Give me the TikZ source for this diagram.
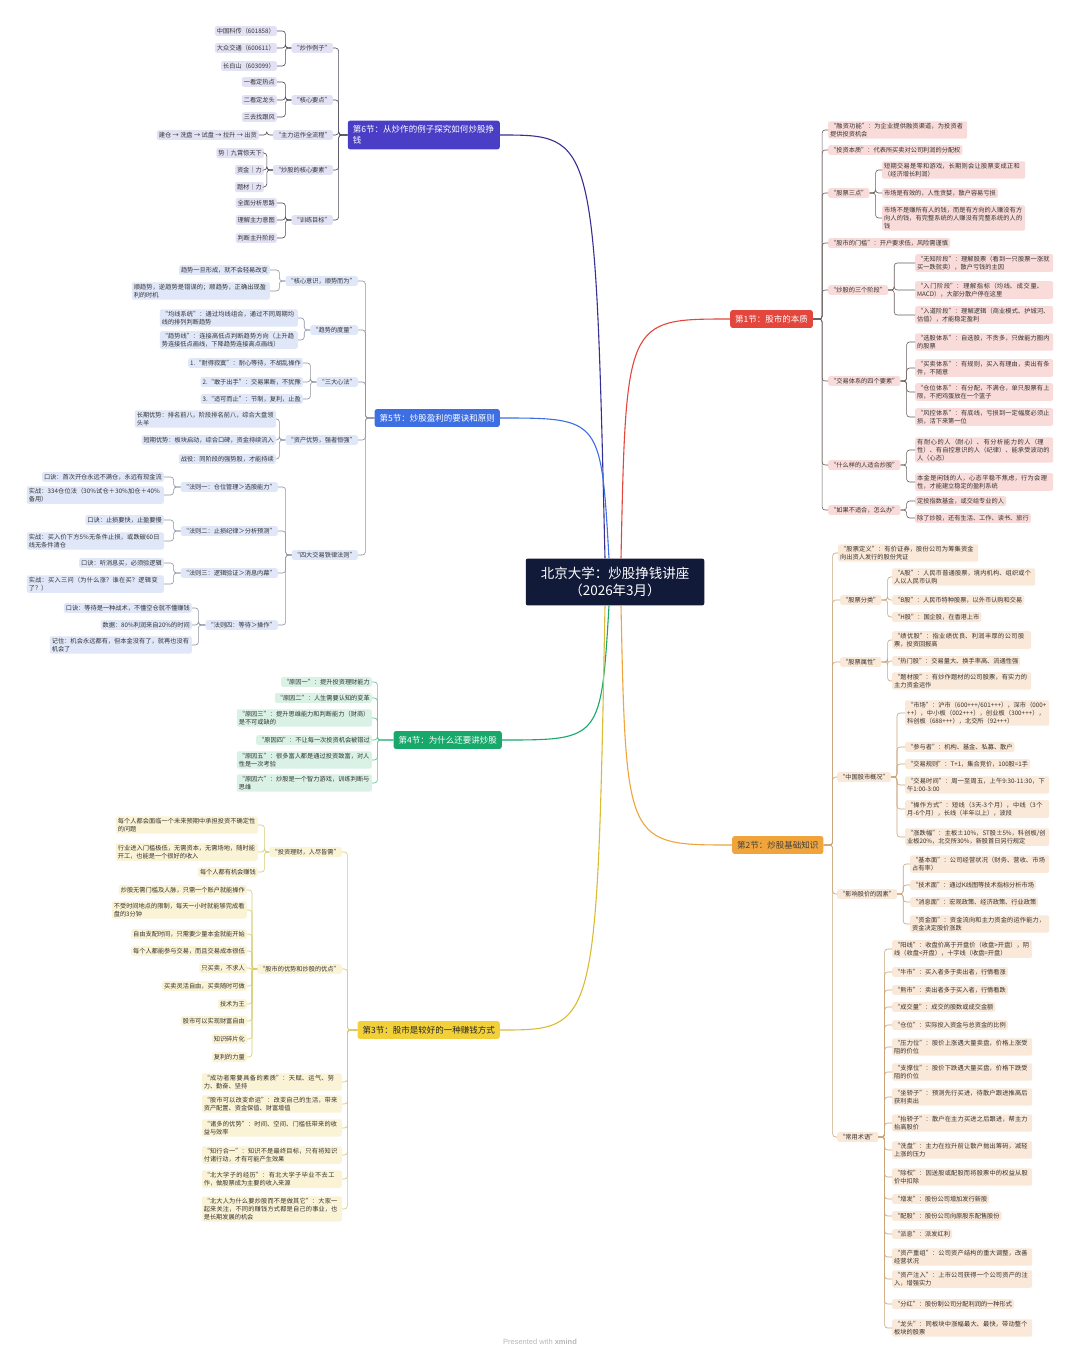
\documentclass[tikz,border=0pt]{standalone}
\usepackage{fontspec}
\setmainfont{Noto Sans CJK SC}
\newfontfamily\footfont{Liberation Sans}
\XeTeXlinebreaklocale "zh"
\XeTeXlinebreakskip = 0pt plus 1pt
\usetikzlibrary{positioning}

\definecolor{rootfill}{HTML}{121A3A}
\definecolor{sixc}{HTML}{4A3EC6}
\definecolor{sixl}{HTML}{E3E2F4}
\definecolor{sixline}{HTML}{4A4A55}
\definecolor{fivec}{HTML}{3D6FE2}
\definecolor{fivel}{HTML}{E0E7F8}
\definecolor{fiveline}{HTML}{8C93A3}
\definecolor{fourc}{HTML}{17A86A}
\definecolor{fourl}{HTML}{DAF1E5}
\definecolor{fourline}{HTML}{5CC497}
\definecolor{threec}{HTML}{F2D03A}
\definecolor{threel}{HTML}{FBF3D5}
\definecolor{threeline}{HTML}{D6CC6A}
\definecolor{onec}{HTML}{E3463C}
\definecolor{onel}{HTML}{F9DCDA}
\definecolor{oneline}{HTML}{6A5F5F}
\definecolor{twoc}{HTML}{F0A43C}
\definecolor{twol}{HTML}{FAE8D8}
\definecolor{twoline}{HTML}{C9A57A}

\newcommand\rootfont{\fontsize{13.5}{17}\selectfont}
\newcommand\secfont{\fontsize{8.5}{11}\selectfont}
\newcommand\leaffont{\fontsize{6.2}{7.8}\selectfont}

\begin{document}
\begin{tikzpicture}[
    x=1pt, y=-1pt,
    root/.style={fill=rootfill, text=white, rounded corners=2pt, align=center, font=\rootfont, inner xsep=15pt, inner ysep=8.5pt},
    sec/.style={rounded corners=2.5pt, font=\secfont, inner xsep=5pt, inner ysep=5pt, text=white},
    leaf/.style={rounded corners=2pt, font=\leaffont, inner xsep=2pt, inner ysep=1.9pt, align=left, text=black!80},
    lsix/.style={leaf, fill=sixl, anchor=east},
    lfive/.style={leaf, fill=fivel, anchor=east},
    lfour/.style={leaf, fill=fourl, anchor=east},
    lthree/.style={leaf, fill=threel, anchor=east},
    lone/.style={leaf, fill=onel, anchor=west},
    ltwo/.style={leaf, fill=twol, anchor=west},
    csix/.style={draw=sixline, line width=0.6pt, rounded corners=3pt},
    cfive/.style={draw=fiveline, line width=0.6pt, rounded corners=3pt},
    cfour/.style={draw=fourline, line width=0.6pt, rounded corners=3pt},
    cthree/.style={draw=threeline, line width=0.6pt, rounded corners=3pt},
    cone/.style={draw=oneline, line width=0.6pt, rounded corners=3pt},
    ctwo/.style={draw=twoline, line width=0.6pt, rounded corners=3pt},
    branch/.style={line width=1.1pt}
]
\fill[white] (0,0) rectangle (1080,1360);
\useasboundingbox (0,0) rectangle (1080,1360);

% centre
\node[root] (root) at (615,582) {北京大学：炒股挣钱讲座\\（2026年3月）};

% ---- section 6
\node[sec, fill=sixc, anchor=east, text width=142pt, align=left] (s6) at (500,135) {第6节：从炒作的例子探究如何炒股挣钱};
\node[lsix] (s6a) at (333,48) {“炒作例子”};
\node[lsix] (s6a1) at (277,31) {中国科传（601858）};
\node[lsix] (s6a2) at (277,48) {大众交通（600611）};
\node[lsix] (s6a3) at (277,66) {长白山（603099）};
\node[lsix] (s6b) at (333,100) {“核心要点”};
\node[lsix] (s6b1) at (277,82) {一看定热点};
\node[lsix] (s6b2) at (277,100) {二看定龙头};
\node[lsix] (s6b3) at (277,117) {三去找跟风};
\node[lsix] (s6c) at (333,135) {“主力运作全流程”};
\node[lsix] (s6c1) at (259,135) {建仓 → 洗盘 → 试盘 → 拉升 → 出货};
\node[lsix] (s6d) at (333,170) {“炒股的核心要素”};
\node[lsix] (s6d1) at (264,153) {势｜九霄惊天下};
\node[lsix] (s6d2) at (264,170) {资金｜力};
\node[lsix] (s6d3) at (264,187) {题材｜力};
\node[lsix] (s6e) at (333,220) {“训练目标”};
\node[lsix] (s6e1) at (277,203) {全面分析思路};
\node[lsix] (s6e2) at (277,220) {理解主力意图};
\node[lsix] (s6e3) at (277,238) {判断主升阶段};

\foreach \c in {s6a,s6b,s6c,s6d,s6e}
  \draw[csix] (s6.west) -- ++(-9,0) |- (\c.east);
\foreach \p/\c in {s6a/s6a1,s6a/s6a2,s6a/s6a3,s6b/s6b1,s6b/s6b2,s6b/s6b3,s6c/s6c1,s6d/s6d1,s6d/s6d2,s6d/s6d3,s6e/s6e1,s6e/s6e2,s6e/s6e3}
  \draw[csix] (\p.west) -- ++(-6,0) |- (\c.east);

% ---- section 5
\node[sec, fill=fivec, anchor=east] (s5) at (500,418) {第5节：炒股盈利的要诀和原则};
\node[lfive] (s5a) at (358,281) {“核心意识，顺势而为”};
\node[lfive] (s5a1) at (270,270) {趋势一旦形成，就不会轻易改变};
\node[lfive, text width=134pt] (s5a2) at (270,291) {顺趋势，逆趋势是错误的；顺趋势，正确出现盈利的时机};
\node[lfive] (s5b) at (358,330) {“趋势的度量”};
\node[lfive, text width=134pt] (s5b1) at (298,318) {“均线系统”：通过均线组合，通过不同周期均线的排列判断趋势};
\node[lfive, text width=134pt] (s5b2) at (298,340) {“趋势线”：连接高低点判断趋势方向（上升趋势连接低点画线，下降趋势连接高点画线）};
\node[lfive] (s5c) at (358,382) {“三大心法”};
\node[lfive] (s5c1) at (303,363) {1.“耐得寂寞”：耐心等待，不胡乱操作};
\node[lfive] (s5c2) at (303,382) {2.“敢于出手”：交易果断，不犹豫};
\node[lfive] (s5c3) at (303,399) {3.“适可而止”：节制，复利，止盈};
\node[lfive] (s5d) at (358,440) {“资产优势，强者恒强”};
\node[lfive, text width=137pt] (s5d1) at (276,419) {长期优势：排名前八，阶段排名前八，综合大盘领头羊};
\node[lfive] (s5d2) at (276,440) {短期优势：板块启动，综合口碑，资金持续流入};
\node[lfive] (s5d3) at (276,459) {战役：同阶段的强势股，才能持续};
\node[lfive] (s5e) at (358,555) {“四大交易铁律法则”};
\node[lfive] (s5e1) at (278,487) {“法则一：仓位管理＞选股能力”};
\node[lfive] (s5e1a) at (164,477) {口诀：首次开仓永远不满仓，永远有现金流};
\node[lfive, text width=133pt] (s5e1b) at (164,495) {实战：334仓位法（30\%试仓＋30\%加仓＋40\%备用）};
\node[lfive] (s5e2) at (278,531) {“法则二：止损纪律＞分析预测”};
\node[lfive] (s5e2a) at (164,520) {口诀：止损要快，止盈要慢};
\node[lfive, text width=133pt] (s5e2b) at (164,541) {实战：买入价下方5\%无条件止损，或跌破60日线无条件清仓};
\node[lfive] (s5e3) at (278,573) {“法则三：逻辑验证＞消息内幕”};
\node[lfive] (s5e3a) at (164,563) {口诀：听消息买，必须验逻辑};
\node[lfive, text width=133pt] (s5e3b) at (164,584) {实战：买入三问（为什么涨？谁在买？逻辑变了？）};
\node[lfive] (s5e4) at (278,625) {“法则四：等待＞操作”};
\node[lfive] (s5e4a) at (192,608) {口诀：等待是一种战术，不懂空仓就不懂赚钱};
\node[lfive] (s5e4b) at (192,625) {数据：80\%利润来自20\%的时间};
\node[lfive, text width=138pt] (s5e4c) at (192,645) {记住：机会永远都有，但本金没有了，就再也没有机会了};

\foreach \c in {s5a,s5b,s5c,s5d,s5e}
  \draw[cfive] (s5.west) -- ++(-9,0) |- (\c.east);
\foreach \p/\c in {s5a/s5a1,s5a/s5a2,s5b/s5b1,s5b/s5b2,s5c/s5c1,s5c/s5c2,s5c/s5c3,s5d/s5d1,s5d/s5d2,s5d/s5d3,s5e/s5e1,s5e/s5e2,s5e/s5e3,s5e/s5e4}
  \draw[cfive] (\p.west) -- ++(-6,0) |- (\c.east);
\foreach \p/\c in {s5e1/s5e1a,s5e1/s5e1b,s5e2/s5e2a,s5e2/s5e2b,s5e3/s5e3a,s5e3/s5e3b,s5e4/s5e4a,s5e4/s5e4b,s5e4/s5e4c}
  \draw[cfive] (\p.west) -- ++(-7,0) |- (\c.east);

% ---- section 4
\node[sec, fill=fourc, anchor=east] (s4) at (502,740) {第4节：为什么还要讲炒股};
\node[lfour] (s4a) at (372,682) {“原因一”：提升投资理财能力};
\node[lfour] (s4b) at (372,698) {“原因二”：人生需要认知的变革};
\node[lfour, text width=131pt] (s4c) at (372,718) {“原因三”：提升思维能力和判断能力（财商）是不可或缺的};
\node[lfour] (s4d) at (372,740) {“原因四”：不让每一次投资机会被错过};
\node[lfour, text width=131pt] (s4e) at (372,760) {“原因五”：很多富人都是通过投资致富，对人性是一次考验};
\node[lfour, text width=131pt] (s4f) at (372,783) {“原因六”：炒股是一个智力游戏，训练判断与思维};

\foreach \c in {s4a,s4b,s4c,s4d,s4e,s4f}
  \draw[cfour] (s4.west) -- ++(-16,0) |- (\c.east);

% ---- section 3
\node[sec, fill=threec, text=black!85, anchor=east] (s3) at (500,1030) {第3节：股市是较好的一种赚钱方式};
\node[lthree] (s3a) at (342,852) {“投资理财，人尽皆需”};
\node[lthree, text width=138pt] (s3a1) at (258,825) {每个人都会面临一个未来预期中承担投资不确定性的问题};
\node[lthree, text width=138pt] (s3a2) at (258,852) {行业进入门槛极低，无需资本，无需场地，随时能开工，也能是一个很好的收入};
\node[lthree] (s3a3) at (258,872) {每个人都有机会赚钱};
\node[lthree] (s3b) at (342,969) {“股市的优势和炒股的优点”};
\node[lthree] (s3b1) at (247,890) {炒股无需门槛及人脉，只需一个账户就能操作};
\node[lthree, text width=131pt] (s3b2) at (247,910) {不受时间地点的限制，每天一小时就能够完成看盘的3分钟};
\node[lthree] (s3b3) at (247,934) {自由支配时间，只需要少量本金就能开始};
\node[lthree] (s3b4) at (247,951) {每个人都能参与交易，而且交易成本很低};
\node[lthree] (s3b5) at (247,968) {只买卖，不求人};
\node[lthree] (s3b6) at (247,986) {买卖灵活自由，买卖随时可做};
\node[lthree] (s3b7) at (247,1004) {技术为王};
\node[lthree] (s3b8) at (247,1021) {股市可以实现财富自由};
\node[lthree] (s3b9) at (247,1039) {知识碎片化};
\node[lthree] (s3b10) at (247,1057) {复利的力量};
\node[lthree, text width=136pt] (s3c) at (342,1082) {“成功者需要具备的素质”：天赋、运气、努力、勤奋、坚持};
\node[lthree, text width=136pt] (s3d) at (342,1104) {“股市可以改变命运”：改变自己的生活，带来资产配置、资金保值、财富增值};
\node[lthree, text width=136pt] (s3e) at (342,1128) {“诸多的优势”：时间、空间、门槛低带来的收益与效率};
\node[lthree, text width=136pt] (s3f) at (342,1155) {“知行合一”：知识不是最终目标，只有将知识付诸行动，才有可能产生效果};
\node[lthree, text width=136pt] (s3g) at (342,1179) {“北大学子的经历”：有北大学子毕业不去工作，做股票成为主要的收入来源};
\node[lthree, text width=136pt] (s3h) at (342,1209) {“北大人为什么要炒股而不是做其它”：大家一起来关注，不同的赚钱方式都是自己的事业，也是长期发展的机会};

\foreach \c in {s3a,s3b,s3c,s3d,s3e,s3f,s3g,s3h}
  \draw[cthree] (s3.west) -- ++(-10,0) |- (\c.east);
\foreach \p/\c in {s3a/s3a1,s3a/s3a2,s3a/s3a3,s3b/s3b1,s3b/s3b2,s3b/s3b3,s3b/s3b4,s3b/s3b5,s3b/s3b6,s3b/s3b7,s3b/s3b8,s3b/s3b9,s3b/s3b10}
  \draw[cthree] (\p.west) -- ++(-5,0) |- (\c.east);

% ---- section 1
\node[sec, fill=onec, anchor=west] (s1) at (730,319) {第1节：股市的本质};
\node[lone, text width=135pt] (s1a) at (828,130) {“融资功能”：为企业提供融资渠道，为投资者提供投资机会};
\node[lone] (s1b) at (828,150) {“投资本质”：代表所买卖对公司利润的分配权};
\node[lone] (s1c) at (828,193) {“股票三点”};
\node[lone, text width=139pt] (s1c1) at (882,170) {短期交易是零和游戏，长期则会让股票变成正和（经济增长利润）};
\node[lone] (s1c2) at (882,193) {市场是有效的，人性贪婪，散户容易亏损};
\node[lone, text width=139pt] (s1c3) at (882,218) {市场不是赚所有人的钱，而是有方向的人赚没有方向人的钱，有完整系统的人赚没有完整系统的人的钱};
\node[lone] (s1d) at (828,243) {“股市的门槛”：开户要求低，风险需谨慎};
\node[lone] (s1e) at (828,290) {“炒股的三个阶段”};
\node[lone, text width=134pt] (s1e1) at (915,263) {“无知阶段”：理解股票（看到一只股票一涨就买一跌就卖），散户亏钱的主因};
\node[lone, text width=134pt] (s1e2) at (915,290) {“入门阶段”：理解指标（均线、成交量、MACD），大部分散户停在这里};
\node[lone, text width=134pt] (s1e3) at (915,315) {“入道阶段”：理解逻辑（商业模式、护城河、估值），才能稳定盈利};
\node[lone] (s1f) at (828,381) {“交易体系的四个要素”};
\node[lone, text width=134pt] (s1f1) at (915,342) {“选股体系”：自选股，不贪多，只做能力圈内的股票};
\node[lone, text width=134pt] (s1f2) at (915,368) {“买卖体系”：有规则，买入有理由，卖出有条件，不随意};
\node[lone, text width=134pt] (s1f3) at (915,392) {“仓位体系”：有分配，不满仓，单只股票有上限，不把鸡蛋放在一个篮子};
\node[lone, text width=134pt] (s1f4) at (915,417) {“风控体系”：有底线，亏损到一定幅度必须止损，活下来第一位};
\node[lone] (s1g) at (828,465) {“什么样的人适合炒股”};
\node[lone, text width=134pt] (s1g1) at (915,450) {有耐心的人（耐心）、有分析能力的人（理性）、有自控意识的人（纪律）、能承受波动的人（心态）};
\node[lone, text width=134pt] (s1g2) at (915,482) {本金是闲钱的人，心态平稳不焦虑，行为会理性，才能建立稳定的盈利系统};
\node[lone] (s1h) at (828,510) {“如果不适合，怎么办”};
\node[lone] (s1h1) at (915,501) {定投指数基金，或交给专业的人};
\node[lone] (s1h2) at (915,518) {除了炒股，还有生活、工作、读书、旅行};

\foreach \c in {s1a,s1b,s1c,s1d,s1e,s1f,s1g,s1h}
  \draw[cone] (s1.east) -- ++(9,0) |- (\c.west);
\foreach \p/\c in {s1c/s1c1,s1c/s1c2,s1c/s1c3,s1e/s1e1,s1e/s1e2,s1e/s1e3,s1f/s1f1,s1f/s1f2,s1f/s1f3,s1f/s1f4,s1g/s1g1,s1g/s1g2,s1h/s1h1,s1h/s1h2}
  \draw[cone] (\p.east) -- ++(6,0) |- (\c.west);

% ---- section 2
\node[sec, fill=twoc, text=black!75, anchor=west] (s2) at (732,845) {第2节：炒股基础知识};
\node[ltwo, text width=136pt] (s2a) at (838,553) {“股票定义”：有价证券，股份公司为筹集资金向出资人发行的股份凭证};
\node[ltwo] (s2b) at (840,600) {“股票分类”};
\node[ltwo, text width=139pt] (s2b1) at (892,577) {“A股”：人民币普通股票，境内机构、组织或个人以人民币认购};
\node[ltwo] (s2b2) at (892,600) {“B股”：人民币特种股票，以外币认购和交易};
\node[ltwo] (s2b3) at (892,617) {“H股”：国企股，在香港上市};
\node[ltwo] (s2c) at (840,662) {“股票属性”};
\node[ltwo, text width=135pt] (s2c1) at (892,640) {“绩优股”：指业绩优良、利润丰厚的公司股票，投资回报高};
\node[ltwo] (s2c2) at (892,661) {“热门股”：交易量大、换手率高、流通性强};
\node[ltwo, text width=135pt] (s2c3) at (892,681) {“题材股”：有炒作题材的公司股票，有实力的主力资金运作};
\node[ltwo] (s2d) at (837,777) {“中国股市概况”};
\node[ltwo, text width=140pt] (s2d1) at (905,713) {“市场”：沪市（600+++/601+++），深市（000+++），中小板（002+++），创业板（300+++），科创板（688+++），北交所（92+++）};
\node[ltwo] (s2d2) at (905,747) {“参与者”：机构、基金、私募、散户};
\node[ltwo] (s2d3) at (905,764) {“交易规则”：T+1，集合竞价，100股=1手};
\node[ltwo, text width=140pt] (s2d4) at (905,785) {“交易时间”：周一至周五，上午9:30-11:30，下午1:00-3:00};
\node[ltwo, text width=140pt] (s2d5) at (905,809) {“操作方式”：短线（3天-3个月），中线（3个月-6个月），长线（半年以上），波段};
\node[ltwo, text width=140pt] (s2d6) at (905,837) {“涨跌幅”：主板±10\%，ST股±5\%，科创板/创业板20\%，北交所30\%，新股首日另行规定};
\node[ltwo] (s2e) at (837,894) {“影响股价的因素”};
\node[ltwo, text width=135pt] (s2e1) at (910,864) {“基本面”：公司经营状况（财务、营收、市场占有率）};
\node[ltwo] (s2e2) at (910,885) {“技术面”：通过K线图等技术指标分析市场};
\node[ltwo] (s2e3) at (910,902) {“消息面”：宏观政策、经济政策、行业政策};
\node[ltwo, text width=135pt] (s2e4) at (910,924) {“资金面”：资金流向和主力资金的运作能力，资金决定股价涨跌};
\node[ltwo] (s2f) at (837,1137) {“常用术语”};
\node[ltwo, text width=136pt] (s2f1) at (892,949) {“阳线”：收盘价高于开盘价（收盘>开盘），阴线（收盘<开盘），十字线（收盘=开盘）};
\node[ltwo] (s2f2) at (892,972) {“牛市”：买入者多于卖出者，行情看涨};
\node[ltwo] (s2f3) at (892,990) {“熊市”：卖出者多于买入者，行情看跌};
\node[ltwo] (s2f4) at (892,1007) {“成交量”：成交的股数或成交金额};
\node[ltwo] (s2f5) at (892,1025) {“仓位”：实际投入资金与总资金的比例};
\node[ltwo, text width=136pt] (s2f6) at (892,1047) {“压力位”：股价上涨遇大量卖盘，价格上涨受阻的价位};
\node[ltwo, text width=136pt] (s2f7) at (892,1072) {“支撑位”：股价下跌遇大量买盘，价格下跌受阻的价位};
\node[ltwo, text width=136pt] (s2f8) at (892,1097) {“坐轿子”：预测先行买进，待散户跟进推高后获利卖出};
\node[ltwo, text width=136pt] (s2f9) at (892,1123) {“抬轿子”：散户在主力买进之后跟进，帮主力抬高股价};
\node[ltwo, text width=136pt] (s2f10) at (892,1150) {“洗盘”：主力在拉升前让散户抛出筹码，减轻上涨的压力};
\node[ltwo, text width=136pt] (s2f11) at (892,1177) {“除权”：因送股或配股而将股票中的权益从股价中扣除};
\node[ltwo] (s2f12) at (892,1199) {“增发”：股份公司增加发行新股};
\node[ltwo] (s2f13) at (892,1216) {“配股”：股份公司向原股东配售股份};
\node[ltwo] (s2f14) at (892,1234) {“派息”：派发红利};
\node[ltwo, text width=136pt] (s2f15) at (892,1257) {“资产重组”：公司资产结构的重大调整，改善经营状况};
\node[ltwo, text width=136pt] (s2f16) at (892,1279) {“资产注入”：上市公司获得一个公司资产的注入，增强实力};
\node[ltwo] (s2f17) at (892,1304) {“分红”：股份制公司分配利润的一种形式};
\node[ltwo, text width=136pt] (s2f18) at (892,1328) {“龙头”：同板块中涨幅最大、最快，带动整个板块的股票};

\foreach \c in {s2a,s2b,s2c,s2d,s2e,s2f}
  \draw[ctwo] (s2.east) -- ++(9,0) |- (\c.west);
\foreach \p/\c in {s2b/s2b1,s2b/s2b2,s2b/s2b3,s2c/s2c1,s2c/s2c2,s2c/s2c3,s2d/s2d1,s2d/s2d2,s2d/s2d3,s2d/s2d4,s2d/s2d5,s2d/s2d6,s2e/s2e1,s2e/s2e2,s2e/s2e3,s2e/s2e4}
  \draw[ctwo] (\p.east) -- ++(6,0) |- (\c.west);
\foreach \n in {1,...,18}
  \draw[ctwo] (s2f.east) -- ++(6,0) |- (s2f\n.west);

% main branches
\draw[branch, draw=sixc!75!black] ([xshift=-10pt]root.north) .. controls (595,135) .. (s6.east);
\draw[branch, draw=fivec] ([xshift=-6pt]root.north) .. controls (601,418) .. (s5.east);
\draw[branch, draw=onec] ([xshift=6pt]root.north) .. controls (626,319) .. (s1.west);
\draw[branch, draw=fourc] ([xshift=-6pt]root.south) .. controls (601,740) .. (s4.east);
\draw[branch, draw=threec!90!black] ([xshift=-10pt]root.south) .. controls (597,1030) .. (s3.east);
\draw[branch, draw=twoc] ([xshift=6pt]root.south) .. controls (626,845) .. (s2.west);

\node[font=\footfont\fontsize{7.5}{9}\selectfont, text=black!28] (credit) at (540,1342) {Presented with \textbf{xmind}};
\end{tikzpicture}
\end{document}
